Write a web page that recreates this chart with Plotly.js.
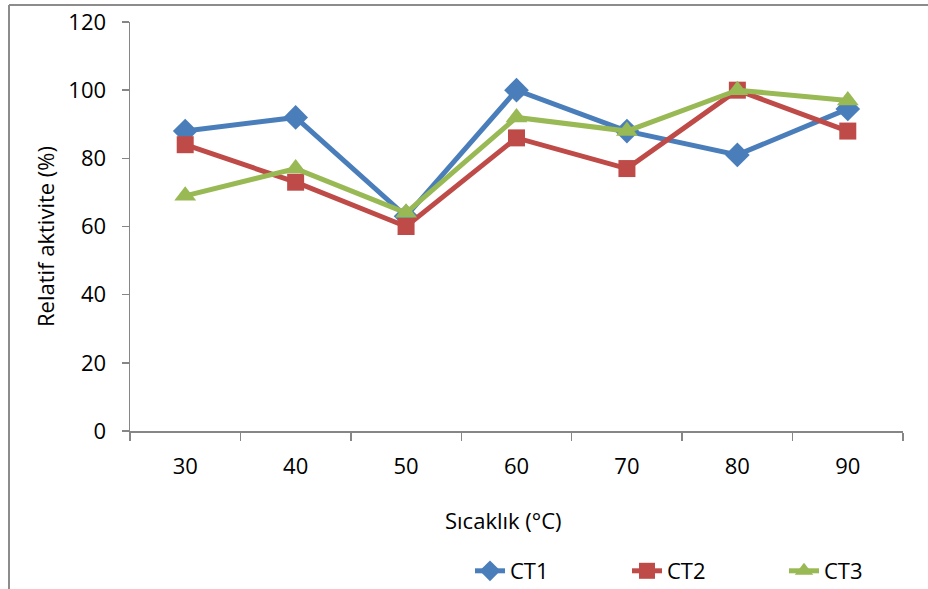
<!DOCTYPE html>
<html>
<head>
<meta charset="utf-8">
<script src="https://cdn.plot.ly/plotly-3.0.1.min.js"></script>
<style>html,body{margin:0;padding:0;background:#fff;}#chart{width:928px;height:589px;}</style>
</head>
<body>
<div id="chart"></div>
<script>
const temps = ['30', '40', '50', '60', '70', '80', '90'];
const ct1 = [88, 92, 63, 100, 88, 81, 94.5];
const ct2 = [84, 73, 60, 86, 77, 100, 88];
const ct3 = [69, 77, 64, 92, 88, 100, 97];
const seriesNames = ['CT1', 'CT2', 'CT3'];
const yTicks = [0, 20, 40, 60, 80, 100, 120];
const xTitle = 'Sıcaklık (°C)';
const yTitle = 'Relatif aktivite (%)';

const FONT = 'Open Sans, Noto Sans, sans-serif';
const FS = 22;
const W = 928, H = 589;
const L = 130, R = 25, T = 22, B = 158;
const pw = W - L - R, ph = H - T - B;
const px = x => (x - L) / pw;
const py = y => (H - B - y) / ph;

const traces = [
  {x: temps, y: ct1, name: seriesNames[0], type: 'scatter', mode: 'lines+markers',
   line: {color: '#4A7EBB', width: 5}, marker: {symbol: 'diamond', size: 19, color: '#4A7EBB'}},
  {x: temps, y: ct2, name: seriesNames[1], type: 'scatter', mode: 'lines+markers',
   line: {color: '#BE4B48', width: 5}, marker: {symbol: 'square', size: 17, color: '#BE4B48'}},
  {x: temps, y: ct3, name: seriesNames[2], type: 'scatter', mode: 'lines+markers',
   line: {color: '#98B954', width: 5}, marker: {symbol: 'triangle-up', size: 19, color: '#98B954'}}
];

const layout = {
  width: W, height: H,
  margin: {l: L, r: R, t: T, b: B, autoexpand: false},
  paper_bgcolor: '#fff', plot_bgcolor: '#fff',
  font: {family: FONT, size: FS, color: '#000'},
  showlegend: true,
  legend: {orientation: 'h', x: px(470), xanchor: 'left', y: py(571), yanchor: 'middle',
           font: {family: FONT, size: FS, color: '#000'}, traceorder: 'normal',
           entrywidth: 112, entrywidthmode: 'pixels', itemwidth: 30, tracegroupgap: 0},
  xaxis: {type: 'category', range: [-0.5, 6.5], tickson: 'boundaries',
          showline: true, linecolor: '#868686', linewidth: 1.5,
          ticks: 'outside', ticklen: 8, tickcolor: '#868686', tickwidth: 1.5,
          showgrid: false, zeroline: false, ticklabelstandoff: 15},
  yaxis: {range: [0, 120], tickvals: yTicks, ticktext: yTicks.map(String),
          showline: true, linecolor: '#868686', linewidth: 1.5,
          ticks: 'outside', ticklen: 7, tickcolor: '#868686', tickwidth: 1.5,
          showgrid: false, zeroline: false, ticklabelstandoff: 11},
  annotations: [
    {text: xTitle, xref: 'paper', yref: 'paper', x: px(503), y: py(520),
     xanchor: 'center', yanchor: 'middle', showarrow: false, font: {family: FONT, size: FS}},
    {text: yTitle, xref: 'paper', yref: 'paper', x: px(45), y: py(237), textangle: -90,
     xanchor: 'center', yanchor: 'middle', showarrow: false, font: {family: FONT, size: FS}}
  ],
  shapes: [
    {type: 'line', xref: 'paper', yref: 'paper', x0: px(9), x1: px(9), y0: py(5), y1: py(589),
     line: {color: '#8c8c8c', width: 2}},
    {type: 'line', xref: 'paper', yref: 'paper', x0: px(9), x1: px(928), y0: py(5), y1: py(5),
     line: {color: '#8c8c8c', width: 2}}
  ]
};

Plotly.newPlot('chart', traces, layout, {displayModeBar: false, staticPlot: true});
</script>
</body>
</html>
